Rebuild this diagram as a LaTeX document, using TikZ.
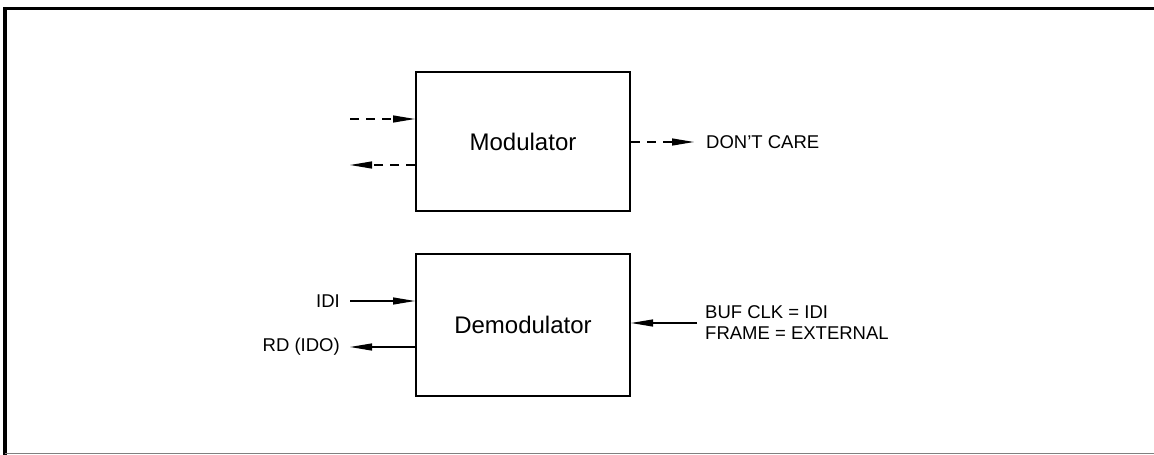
\documentclass[tikz,border=0pt]{standalone}
\usepackage{fontspec}
\setmainfont{Liberation Sans}
\usetikzlibrary{arrows.meta}
\begin{document}
\begin{tikzpicture}[x=1pt,y=-1pt,
  blk/.style={draw,line width=2pt,minimum width=214pt,minimum height=139pt,inner sep=0pt,font=\fontsize{24}{28}\selectfont},
  sig/.style={line width=1.2pt,-{Triangle[length=22pt,width=7pt]}},
  dsig/.style={sig,dash pattern=on 9pt off 7pt},
  lbl/.style={inner sep=0pt,font=\fontsize{18.5}{21}\selectfont,align=left}]
\useasboundingbox (0,0) rectangle (1154,455);
\draw[line width=3.5pt] (5,455) -- (5,8.5) -- (1154,8.5);
\draw[line width=1pt,gray] (5,453.5) -- (1154,453.5);

\node[blk,minimum height=139pt] (mod) at (523,141.5) {Modulator};
\node[blk,minimum height=142pt] (dem) at (523,325) {Demodulator};

% modulator left dashed arrows
\coordinate (mi) at (350,119);
\coordinate (mo) at (350,165);
\draw[dsig] (mi) -- (mi -| mod.west);
\draw[dsig] (mo -| mod.west) -- (mo);

% don't care
\node[lbl,anchor=west] (dc) at (706,142) {DON'T CARE};
\draw[dsig] (mod.east |- dc.west) -- ([xshift=-12pt]dc.west);

% demodulator left
\node[lbl,anchor=east] (idi) at (340,301) {IDI};
\node[lbl,anchor=east] (rd) at (340,347) {RD (IDO)};
\draw[sig] ([xshift=10pt]idi.east) -- (idi.east -| dem.west);
\draw[sig] (rd.east -| dem.west) -- ([xshift=10pt]rd.east);

% demodulator right
\node[lbl,anchor=west] (buf) at (705,323) {BUF CLK = IDI\\FRAME = EXTERNAL};
\draw[sig] ([xshift=-8pt]buf.west) -- (buf.west -| dem.east);
\end{tikzpicture}
\end{document}
